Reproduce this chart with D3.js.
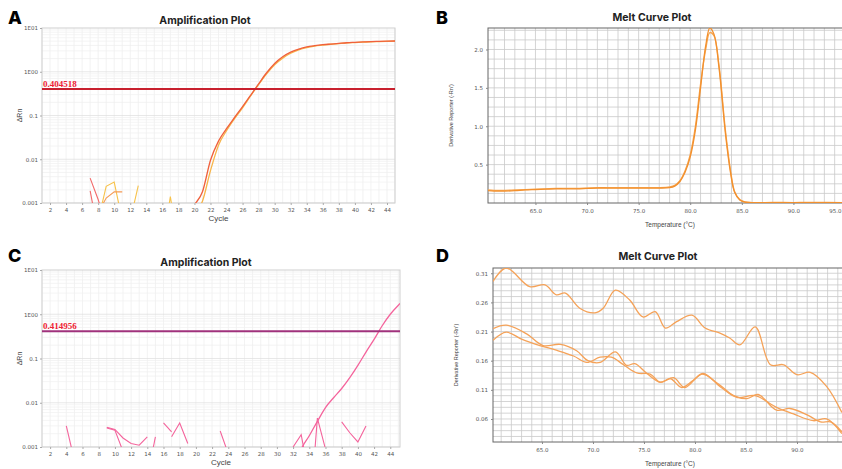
<!DOCTYPE html>
<html>
<head>
<meta charset="utf-8">
<script src="https://cdn.jsdelivr.net/npm/d3@7"></script>
<style>
  body { margin: 0; background: #fff; }
  svg { display: block; font-family: "Liberation Sans", Arial, sans-serif; }
</style>
</head>
<body>
<div id="container"></div>
<script>
// ---- panel A : amplification, two replicates + background noise ----
const cyclesA = [19, 20, 21, 22, 23, 24, 25, 26, 27, 28, 29, 30, 31, 32, 33, 34, 35, 36, 37, 38, 39, 40, 41, 42, 43, 44, 45];
const ampA1 = [0.0004, 0.0009, 0.0018, 0.0095, 0.026, 0.05, 0.09, 0.16, 0.29, 0.53, 0.95, 1.55, 2.2, 2.8, 3.3, 3.7, 3.95, 4.15, 4.3, 4.45, 4.6, 4.7, 4.8, 4.9, 4.95, 5.0, 5.05];
const ampA2 = [0.0003, 0.0006, 0.0011, 0.0055, 0.021, 0.045, 0.085, 0.15, 0.28, 0.51, 0.9, 1.45, 2.05, 2.65, 3.15, 3.55, 3.85, 4.05, 4.25, 4.4, 4.55, 4.65, 4.75, 4.85, 4.9, 4.95, 5.0];
const thresholdA = 0.404518;
// noise wells [cycle, dRn]
const noiseA = [
  { color: "#f26a6a", pts: [[7, 0.0037], [8, 0.0012], [9, 0.0003]] },
  { color: "#f26a6a", pts: [[7, 0.0019], [8, 0.0002]] },
  { color: "#f7c24a", pts: [[8, 0.0004], [9, 0.0024], [10, 0.003], [11, 0.0004]] },
  { color: "#f59a55", pts: [[8, 0.0006], [9, 0.0013], [10, 0.0018], [11, 0.0018]] },
  { color: "#f7c24a", pts: [[12, 0.0004], [13, 0.0025]] },
  { color: "#f7c24a", pts: [[16, 0.0001], [17, 0.0014], [18, 0.0001]] }
];

// ---- panel C : amplification, late single well ----
const cyclesC = [32, 33, 34, 35, 36, 37, 38, 39, 40, 41, 42, 43, 44, 45, 46];
const ampC = [0.0003, 0.0009, 0.0018, 0.0038, 0.0078, 0.013, 0.021, 0.037, 0.07, 0.14, 0.27, 0.55, 1.0, 1.6, 2.4];
const thresholdC = 0.414956;
const noiseC = [
  [[4, 0.003], [5, 0.0005]],
  [[9, 0.0028], [10, 0.0025], [11, 0.0016], [12, 0.0012], [13, 0.0011], [14, 0.0017]],
  [[9, 0.0027], [10, 0.0024], [11, 0.0008]],
  [[14, 0.0002], [15, 0.0017]],
  [[16, 0.0035], [17, 0.0022]],
  [[17, 0.0017], [18, 0.0035], [19, 0.0012]],
  [[23, 0.0023], [24, 0.0007]],
  [[32, 0.001], [33, 0.0019], [34, 0.0002]],
  [[34, 0.00002], [35, 0.0045], [36, 0.0009]],
  [[38, 0.0037], [39, 0.0021], [40, 0.0013], [41, 0.003]]
];

const ampTickValues = [0.001, 0.01, 0.1, 1, 10];
const ampTickLabels = ["0.001", "0.01", "0.1", "1E00", "1E01"];
const cycleTicks = d3.range(2, 45, 2);

// ---- panel B : melt curve, single sharp peak ----
const tempB = [60.4, 61, 62, 63, 64, 65, 66, 67, 68, 69, 70, 71, 72, 73, 74, 75, 76, 77, 78, 78.5, 79, 79.5, 80, 80.5, 81, 81.5, 81.9, 82.3, 82.8, 83.4, 83.9, 84.3, 84.8, 85.3, 86, 88, 90, 92, 95];
const meltB1 = [0.16, 0.155, 0.155, 0.16, 0.17, 0.175, 0.18, 0.185, 0.185, 0.185, 0.19, 0.195, 0.195, 0.195, 0.195, 0.195, 0.195, 0.195, 0.2, 0.22, 0.28, 0.4, 0.6, 0.95, 1.5, 2.05, 2.28, 2.2, 1.75, 0.92, 0.4, 0.14, 0.04, 0.012, 0.005, 0.006, 0.005, 0.006, 0.005];
const meltB2 = [0.17, 0.165, 0.165, 0.17, 0.175, 0.18, 0.185, 0.19, 0.19, 0.19, 0.195, 0.2, 0.2, 0.2, 0.2, 0.2, 0.2, 0.2, 0.21, 0.23, 0.29, 0.42, 0.63, 1.0, 1.55, 2.0, 2.22, 2.18, 1.78, 0.96, 0.43, 0.15, 0.045, 0.014, 0.006, 0.007, 0.006, 0.007, 0.006];
const meltBTicks = [0.5, 1.0, 1.5, 2.0];
const tempTicksB = [65, 70, 75, 80, 85, 90, 95];

// ---- panel D : melt curve, no specific product ----
const tempD1 = [60.2, 61.5, 63.8, 65.3, 66.4, 67.3, 68.7, 70.2, 71.0, 72.2, 73.6, 74.9, 76.1, 77.1, 78.2, 79.7, 81.0, 82.5, 83.4, 84.4, 85.9, 87.4, 88.7, 90.0, 91.3, 92.9, 94.4];
const meltD1 = [0.296, 0.319, 0.287, 0.29, 0.273, 0.276, 0.25, 0.242, 0.25, 0.281, 0.264, 0.235, 0.244, 0.216, 0.227, 0.238, 0.216, 0.207, 0.199, 0.187, 0.218, 0.153, 0.153, 0.136, 0.14, 0.116, 0.071];
const tempD2 = [60.2, 61.5, 63.5, 65.1, 66.8, 68.4, 69.5, 70.7, 72.2, 73.3, 74.1, 75.3, 76.6, 77.6, 78.7, 79.8, 80.8, 82.5, 84.1, 85.9, 88.0, 89.6, 91.6, 92.9, 94.4];
const meltD2 = [0.215, 0.221, 0.206, 0.186, 0.188, 0.177, 0.16, 0.157, 0.175, 0.152, 0.155, 0.138, 0.123, 0.129, 0.114, 0.126, 0.138, 0.115, 0.097, 0.1, 0.08, 0.069, 0.057, 0.06, 0.035];
const tempD3 = [60.2, 61.5, 63.0, 64.8, 66.4, 68.1, 69.4, 70.7, 71.8, 73.0, 74.3, 75.6, 76.6, 77.9, 79.0, 80.7, 82.3, 83.8, 85.1, 86.2, 88.0, 89.3, 91.0, 92.3, 93.3, 94.4];
const meltD3 = [0.195, 0.209, 0.197, 0.186, 0.178, 0.168, 0.157, 0.166, 0.166, 0.153, 0.139, 0.137, 0.123, 0.131, 0.114, 0.137, 0.12, 0.1, 0.095, 0.102, 0.075, 0.078, 0.067, 0.055, 0.055, 0.038];
const meltDTicks = [0.06, 0.11, 0.16, 0.21, 0.26, 0.31];
const tempTicksD = [65, 70, 75, 80, 85, 90];

const svg = d3.select("#container").append("svg")
  .attr("width", 842).attr("height", 469);

function addClip(id, x0, y0, x1, y1) {
  svg.append("clipPath").attr("id", id)
    .append("rect").attr("x", x0).attr("y", y0).attr("width", x1 - x0).attr("height", y1 - y0);
}

function letter(t, x, y) {
  svg.append("text").attr("x", x).attr("y", y)
    .style("font-family", "Inter, 'Open Sans', sans-serif")
    .style("font-weight", 800).style("font-size", "18px").text(t);
}

function title(t, x, y) {
  svg.append("text").attr("x", x).attr("y", y).attr("text-anchor", "middle")
    .style("font-family", "Inter, 'Open Sans', sans-serif")
    .style("font-weight", 700).style("font-size", "10.5px").style("fill", "#222").text(t);
}

// amplification plot
function ampPanel(p) {
  const x = d3.scaleLinear().domain(p.cycleDomain).range([p.x0, p.x1]);
  const y = d3.scaleLog().domain([0.001, 10]).range([p.y1, p.y0]);
  const g = svg.append("g");

  // fine grid
  g.selectAll(".vg").data(d3.range(1, Math.floor(p.cycleDomain[1]) + 1)).join("line")
    .attr("x1", d => x(d)).attr("x2", d => x(d)).attr("y1", p.y0).attr("y2", p.y1)
    .attr("stroke", "#ececec").attr("stroke-width", 0.7);
  const minor = [];
  [0.001, 0.01, 0.1, 1].forEach(dec => d3.range(1, 10).forEach(k => minor.push(dec * k)));
  g.selectAll(".hg").data(minor).join("line")
    .attr("x1", p.x0).attr("x2", p.x1).attr("y1", d => y(d)).attr("y2", d => y(d))
    .attr("stroke", d => ampTickValues.includes(+d.toPrecision(3)) ? "#dedede" : "#efefef")
    .attr("stroke-width", 0.7);

  g.append("rect").attr("x", p.x0).attr("y", p.y0).attr("width", p.x1 - p.x0).attr("height", p.y1 - p.y0)
    .attr("fill", "none").attr("stroke", "#cfcfcf").attr("stroke-width", 1);

  // axes
  const xa = g.append("g").attr("transform", `translate(0,${p.y1})`)
    .call(d3.axisBottom(x).tickValues(cycleTicks).tickSize(2).tickPadding(3));
  const ya = g.append("g").attr("transform", `translate(${p.x0},0)`)
    .call(d3.axisLeft(y).tickValues(ampTickValues).tickSize(2).tickPadding(2)
      .tickFormat((d, i) => ampTickLabels[i]));
  [xa, ya].forEach(a => {
    a.select(".domain").remove();
    a.selectAll("line").attr("stroke", "#aaa");
    a.selectAll("text").style("font-size", "5.5px").attr("fill", "#555").style("font-family", "'DejaVu Sans', sans-serif");
  });

  const line = d3.line().x(d => x(d[0])).y(d => y(Math.max(d[1], 1e-6)));
  const smooth = d3.line().x(d => x(d[0])).y(d => y(d[1])).curve(d3.curveMonotoneX);
  const plot = g.append("g").attr("clip-path", `url(#${p.clip})`);

  p.noise.forEach(n => {
    plot.append("path").attr("d", line(n.pts)).attr("fill", "none")
      .attr("stroke", n.color).attr("stroke-width", 1.1);
  });
  p.curves.forEach(c => {
    plot.append("path").attr("d", smooth(c.cycles.map((cy, i) => [cy, c.values[i]])))
      .attr("fill", "none").attr("stroke", c.color).attr("stroke-width", 1.3);
  });

  // threshold
  g.append("line").attr("x1", p.x0).attr("x2", p.x1)
    .attr("y1", y(p.threshold)).attr("y2", y(p.threshold))
    .attr("stroke", p.thrColor).attr("stroke-width", 2);
  g.append("text").attr("x", p.x0 + 1).attr("y", y(p.threshold) - 2)
    .style("font-family", "'Liberation Serif', serif").style("font-weight", 700)
    .style("font-size", "9px").attr("fill", "#ee2233").text(p.threshold.toString());

  g.append("text").attr("x", (p.x0 + p.x1) / 2 + 0).attr("y", p.y1 + 18).attr("text-anchor", "middle")
    .style("font-size", "8px").attr("fill", "#444").text("Cycle");
  g.append("text").attr("transform", `translate(${p.x0 - 20},${(p.y0 + p.y1) / 2}) rotate(-90)`)
    .attr("text-anchor", "middle").style("font-size", "7px").attr("fill", "#444").text("ΔRn");
}

// melt curve plot
function meltPanel(p) {
  const x = d3.scaleLinear().domain(p.tempDomain).range([p.x0, p.x1]);
  const y = d3.scaleLinear().domain(p.yDomain).range([p.y1, p.y0]);
  const g = svg.append("g");

  g.selectAll(".vg").data(d3.range(Math.ceil(p.tempDomain[0]), 96)).join("line")
    .attr("x1", d => x(d)).attr("x2", d => x(d)).attr("y1", p.y0).attr("y2", p.y1)
    .attr("stroke", "#c9c9c9").attr("stroke-width", 0.8);
  g.selectAll(".hg").data(p.hGrid).join("line")
    .attr("x1", p.x0).attr("x2", p.x1).attr("y1", d => y(d)).attr("y2", d => y(d))
    .attr("stroke", "#c9c9c9").attr("stroke-width", 0.8);

  g.append("rect").attr("x", p.x0).attr("y", p.y0).attr("width", p.x1 - p.x0).attr("height", p.y1 - p.y0)
    .attr("fill", "none").attr("stroke", "#666").attr("stroke-width", 1);

  const xa = g.append("g").attr("transform", `translate(0,${p.y1})`)
    .call(d3.axisBottom(x).tickValues(p.xTicks).tickSize(2).tickPadding(4).tickFormat(d3.format(".1f")));
  const ya = g.append("g").attr("transform", `translate(${p.x0},0)`)
    .call(d3.axisLeft(y).tickValues(p.yTicks).tickSize(2).tickPadding(3).tickFormat(p.yFormat));
  [xa, ya].forEach(a => {
    a.select(".domain").remove();
    a.selectAll("line").attr("stroke", "#888");
    a.selectAll("text").style("font-size", "5.5px").attr("fill", "#555").style("font-family", "'DejaVu Sans', sans-serif");
  });
  // keep the last label inside the window
  xa.selectAll("text").filter(d => x(d) > 835).attr("text-anchor", "end").attr("dx", 842 - x(95) - 1);

  const line = d3.line().x(d => x(d[0])).y(d => y(d[1])).curve(d3.curveCatmullRom.alpha(0.5));
  const plot = g.append("g").attr("clip-path", `url(#${p.clip})`);
  p.curves.forEach(c => {
    plot.append("path").attr("d", line(c.temps.map((t, i) => [t, c.values[i]])))
      .attr("fill", "none").attr("stroke", c.color).attr("stroke-width", 1.3);
  });

  g.append("text").attr("x", p.xLabelX).attr("y", p.y1 + 24).attr("text-anchor", "middle")
    .style("font-size", "6.5px").attr("fill", "#444").text("Temperature (°C)");
  g.append("text").attr("transform", `translate(${p.yLabelX},${(p.y0 + p.y1) / 2}) rotate(-90)`)
    .attr("text-anchor", "middle").style("font-size", "5.5px").attr("fill", "#444")
    .text("Derivative Reporter (-Rn')");
}

addClip("clipA", 42, 28, 395, 203);
addClip("clipC", 42, 270, 400, 447);
addClip("clipB", 488, 28, 845, 203);
addClip("clipD", 493, 268, 848, 442);

ampPanel({
  x0: 42, x1: 395, y0: 28, y1: 203, cycleDomain: [1, 45], clip: "clipA",
  threshold: thresholdA, thrColor: "#c8202e",
  noise: noiseA,
  curves: [
    { cycles: cyclesA, values: ampA2, color: "#f7b54a" },
    { cycles: cyclesA, values: ampA1, color: "#f0603c" }
  ]
});

ampPanel({
  x0: 42, x1: 400, y0: 270, y1: 447, cycleDomain: [1, 45.2], clip: "clipC",
  threshold: thresholdC, thrColor: "#a0327c",
  noise: noiseC.map(pts => ({ color: "#f4649c", pts })),
  curves: [{ cycles: cyclesC, values: ampC, color: "#f4649c" }]
});

meltPanel({
  x0: 488, x1: 845, y0: 28, y1: 203, tempDomain: [60.4, 95], yDomain: [0, 2.28], clip: "clipB",
  xTicks: tempTicksB, yTicks: meltBTicks, yFormat: d3.format(".1f"), hGrid: d3.range(0.125, 2.28, 0.125),
  xLabelX: 670, yLabelX: 453,
  curves: [
    { temps: tempB, values: meltB2, color: "#f7a650" },
    { temps: tempB, values: meltB1, color: "#f2902e" }
  ]
});

meltPanel({
  x0: 493, x1: 848, y0: 268, y1: 442, tempDomain: [60.2, 95], yDomain: [0.0205, 0.319], clip: "clipD",
  xTicks: tempTicksD, yTicks: meltDTicks, yFormat: d3.format(".2f"), hGrid: d3.range(0.03, 0.315, 0.01),
  xLabelX: 670, yLabelX: 458,
  curves: [
    { temps: tempD1, values: meltD1, color: "#f5a258" },
    { temps: tempD2, values: meltD2, color: "#f5a258" },
    { temps: tempD3, values: meltD3, color: "#f5a258" }
  ]
});

letter("A", 8, 24);
letter("B", 436, 24);
letter("C", 8, 262);
letter("D", 436, 262);
title("Amplification Plot", 205, 24);
title("Melt Curve Plot", 652, 21);
title("Amplification Plot", 206, 266);
title("Melt Curve Plot", 658, 260);
</script>
</body>
</html>
